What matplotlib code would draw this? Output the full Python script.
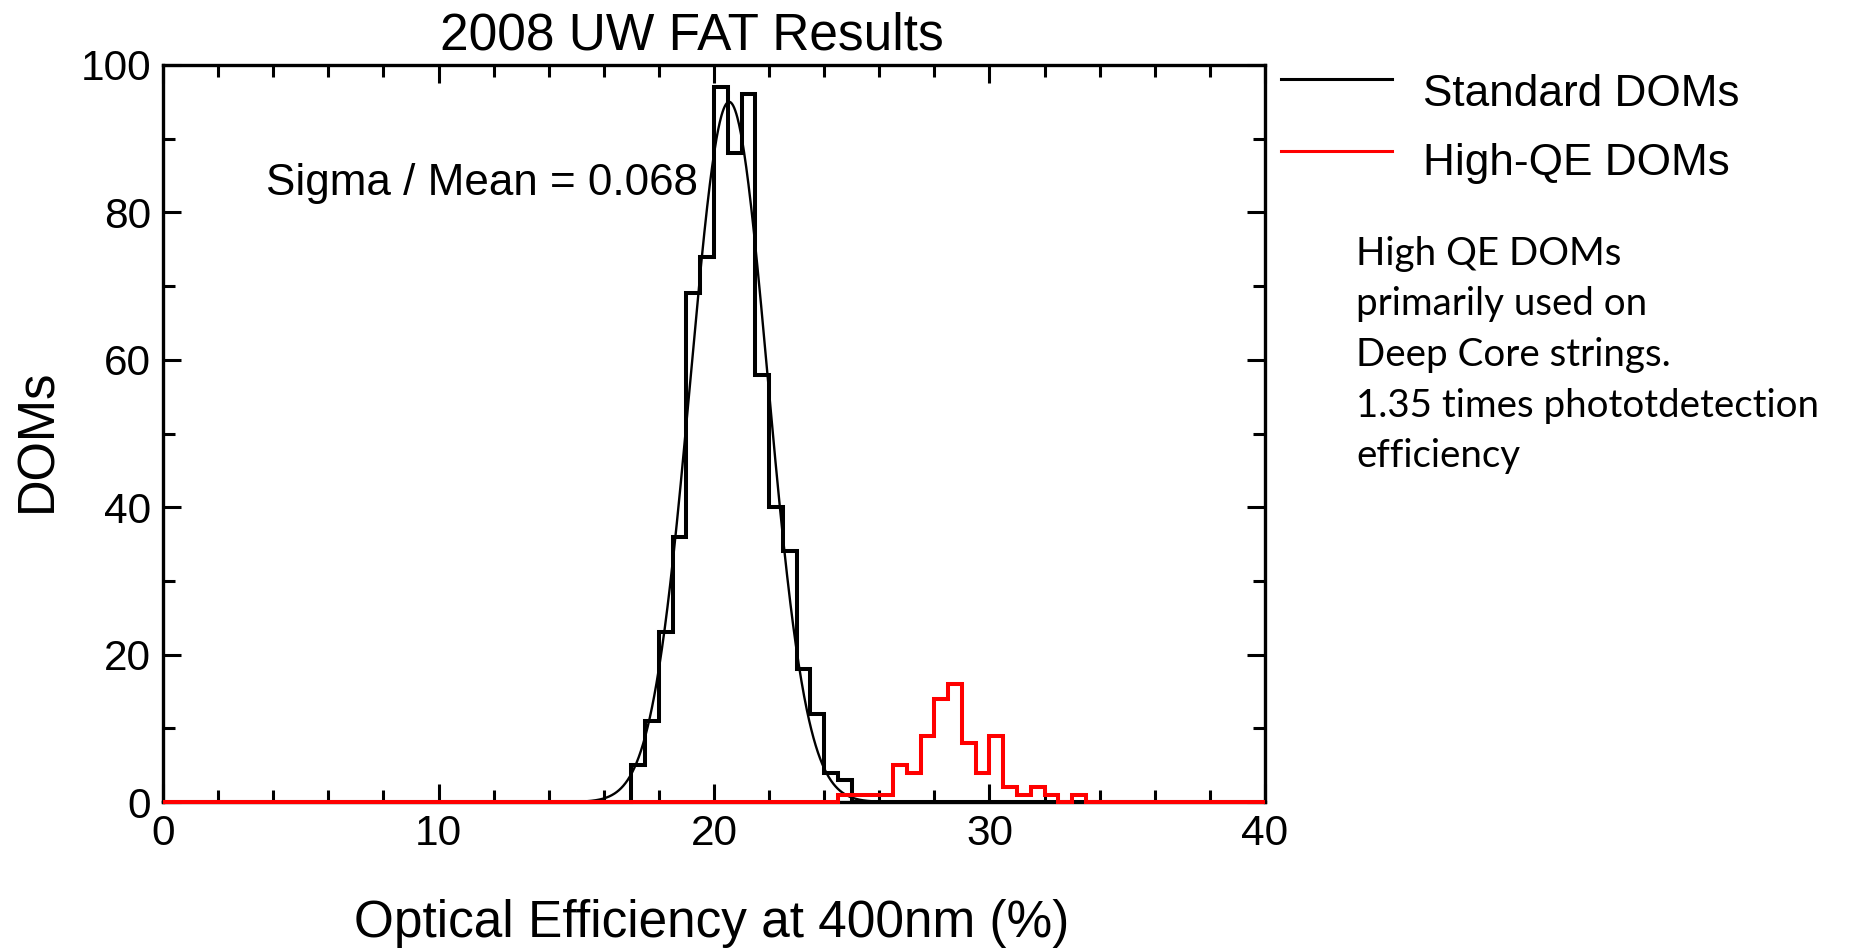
import numpy as np
import matplotlib
matplotlib.use("Agg")
import matplotlib.pyplot as plt
from matplotlib.lines import Line2D

# ---- data ----
BIN_WIDTH = 0.5
STD_START = 17.0
STD_COUNTS = [5, 11, 23, 36, 69, 74, 97, 88, 96, 58, 40, 34, 18, 12, 4, 3]
HQE_START = 24.5
HQE_COUNTS = [1, 1, 1, 1, 5, 4, 9, 14, 16, 8, 4, 9, 2, 1, 2, 1, 0, 1]
FIT_AMP = 95.0
FIT_MEAN = 20.55
FIT_SIGMA = 1.40
X_RANGE = (0, 40)
Y_RANGE = (0, 100)
TITLE = "2008 UW FAT Results"
XLABEL = "Optical Efficiency at 400nm (%)"
YLABEL = "DOMs"
SIGMA_TEXT = "Sigma / Mean = 0.068"
LEGEND_LABELS = ["Standard DOMs", "High-QE DOMs"]
NOTE_LINES = ["High QE DOMs", "primarily used on", "Deep Core strings.",
              "1.35 times phototdetection", "efficiency"]

plt.rcParams['font.family'] = ['Liberation Sans', 'DejaVu Sans']

W, H = 1856, 949
fig = plt.figure(figsize=(W / 100, H / 100), dpi=100)
ax = fig.add_axes([163 / W, 1 - 802 / H, (1265 - 163) / W, (802 - 65) / H])

edges = np.arange(X_RANGE[0], X_RANGE[1] + BIN_WIDTH / 2, BIN_WIDTH)


def full_counts(start, counts):
    arr = np.zeros(len(edges) - 1)
    i0 = int(round((start - X_RANGE[0]) / BIN_WIDTH))
    arr[i0:i0 + len(counts)] = counts
    return arr


std = full_counts(STD_START, STD_COUNTS)
hqe = full_counts(HQE_START, HQE_COUNTS)

xs = np.linspace(X_RANGE[0], X_RANGE[1], 2000)
fit = FIT_AMP * np.exp(-0.5 * ((xs - FIT_MEAN) / FIT_SIGMA) ** 2)
ax.plot(xs, fit, color='black', lw=1.7, zorder=3, clip_on=False)
ax.stairs(std, edges, color='black', lw=2.9, zorder=4, clip_on=False, baseline=None)
ax.stairs(hqe, edges, color='#ff0000', lw=2.9, zorder=5, clip_on=False, baseline=None)

ax.set_xlim(*X_RANGE)
ax.set_ylim(*Y_RANGE)
ax.set_xticks(np.arange(0, 41, 10))
ax.set_xticks(np.arange(0, 41, 2), minor=True)
ax.set_yticks(np.arange(0, 101, 20))
ax.set_yticks(np.arange(0, 101, 10), minor=True)
ax.tick_params(which='both', direction='in', top=True, right=True, width=2.2,
               labelsize=30.5, colors='black')
ax.tick_params(which='major', length=13, pad=8.5)
ax.tick_params(which='minor', length=8.3)
for s in ax.spines.values():
    s.set_linewidth(2.4)

fig.text(692 / W, 1 - 36 / H, TITLE, ha='center', va='center', fontsize=37)
fig.text(712 / W, 1 - 923 / H, XLABEL, ha='center', va='center', fontsize=37)
fig.text(38 / W, 1 - 440 / H, YLABEL, ha='center', va='center', fontsize=36.5, rotation=90)
fig.text(266 / W, 1 - 184 / H, SIGMA_TEXT, ha='left', va='center', fontsize=31.7)

# legend drawn manually outside the axes
for (y_line, y_txt), col, lab in zip([(79, 94), (151, 164)], ['black', '#ff0000'], LEGEND_LABELS):
    fig.add_artist(Line2D([1281 / W, 1392 / W], [1 - y_line / H, 1 - y_line / H],
                          color=col, lw=2.2, transform=fig.transFigure))
    fig.text(1423 / W, 1 - y_txt / H, lab, ha='left', va='center', fontsize=31.8)

fig.text(1356 / W, 1 - 236 / H, "\n".join(NOTE_LINES), ha='left', va='top',
         fontsize=27.7, family=['Lato', 'DejaVu Sans'], linespacing=1.5)

fig.savefig("out.png", dpi=100, facecolor='white')
